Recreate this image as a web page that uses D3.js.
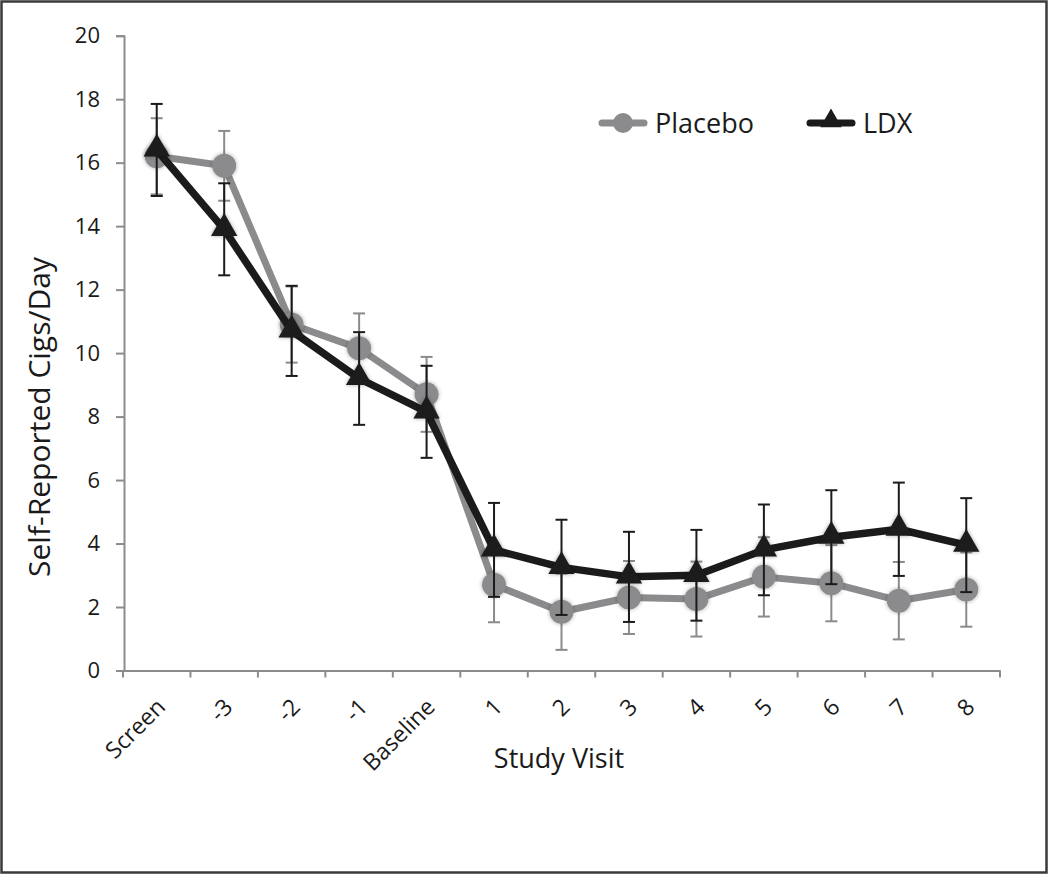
<!DOCTYPE html>
<html>
<head>
<meta charset="utf-8">
<script src="https://cdn.jsdelivr.net/npm/d3@7"></script>
<style>
  body { margin: 0; background: #fff; }
  text { font-family: "Open Sans", "Noto Sans", sans-serif; fill: #1a1a1a; }
</style>
</head>
<body>
<script>
'use strict';
// visits along the x axis
let visits = ["Screen", "-3", "-2", "-1", "Baseline", "1", "2", "3", "4", "5", "6", "7", "8"];
// mean self-reported cigarettes per day
let placebo = [16.2, 15.9, 10.9, 10.15, 8.7, 2.7, 1.85, 2.3, 2.25, 2.95, 2.75, 2.2, 2.55];
let placeboErr = [1.2, 1.1, 1.2, 1.1, 1.18, 1.18, 1.2, 1.15, 1.18, 1.25, 1.2, 1.22, 1.17];
let ldx = [16.4, 13.9, 10.7, 9.2, 8.15, 3.8, 3.25, 2.95, 3.0, 3.8, 4.2, 4.45, 3.95];
let ldxErr = [1.45, 1.45, 1.42, 1.46, 1.45, 1.48, 1.5, 1.42, 1.43, 1.43, 1.48, 1.47, 1.48];
let yTicks = [0, 2, 4, 6, 8, 10, 12, 14, 16, 18, 20];

let grey = "#8b8b8d", black = "#1b1b1b", axisGrey = "#8c8c8c";

let svg = d3.select("body").append("svg")
	.attr("width", 1050)
	.attr("height", 875);

svg.append("rect")
	.attr("x", 1.5).attr("y", 1.5)
	.attr("width", 1045).attr("height", 871)
	.attr("fill", "#fff")
	.attr("stroke", "#3a3a3a")
	.attr("stroke-width", 2.5);

// soft shadow like the excel markers
let defs = svg.append("defs");
let f = defs.append("filter").attr("id", "soft")
	.attr("x", "-50%").attr("y", "-50%").attr("width", "200%").attr("height", "200%");
f.append("feGaussianBlur").attr("in", "SourceAlpha").attr("stdDeviation", 2).attr("result", "b");
f.append("feComponentTransfer").attr("in", "b").attr("result", "s")
	.append("feFuncA").attr("type", "linear").attr("slope", 0.35);
let m = f.append("feMerge");
m.append("feMergeNode").attr("in", "s");
m.append("feMergeNode").attr("in", "SourceGraphic");

let x = d3.scaleBand().domain(visits).range([123, 1000]);
let y = d3.scaleLinear().domain([0, 20]).range([670.5, 35.7]);
let cx = function(d, i){ return x(visits[i]) + x.bandwidth() / 2; };

// y axis
let yAxis = svg.append("g")
	.attr("transform", "translate(124,0)")
	.call(d3.axisLeft(y).tickValues(yTicks).tickSize(8).tickPadding(16));
yAxis.select(".domain").attr("stroke", axisGrey).attr("stroke-width", 2);
yAxis.selectAll(".tick line").attr("stroke", axisGrey).attr("stroke-width", 2);
yAxis.selectAll(".tick text")
	.style("font-size", "22px")
	.style("font-family", "'Open Sans', sans-serif")
	.attr("fill", "#1a1a1a");

// x axis: labels under the bands, ticks on band edges
let xAxis = svg.append("g")
	.attr("transform", "translate(0," + y(0) + ")")
	.call(d3.axisBottom(x).tickSize(0).tickSizeOuter(0));
xAxis.select(".domain").attr("stroke", axisGrey).attr("stroke-width", 2);
xAxis.selectAll(".tick text")
	.style("font-size", "23px")
	.style("font-family", "'Open Sans', sans-serif")
	.attr("fill", "#1a1a1a")
	.attr("text-anchor", "end")
	.attr("transform", "translate(-2,26) rotate(-45)")
	.attr("dy", "0.6em");

let edges = visits.map(function(d){ return x(d); }).concat([x.range()[1]]);
svg.selectAll("line.xtick")
	.data(edges)
	.enter().append("line")
		.attr("class", "xtick")
		.attr("x1", function(d){ return d; })
		.attr("x2", function(d){ return d; })
		.attr("y1", y(0))
		.attr("y2", y(0) + 7)
		.attr("stroke", axisGrey)
		.attr("stroke-width", 2);

// axis titles
svg.append("text")
	.attr("x", 559).attr("y", 768)
	.attr("text-anchor", "middle")
	.style("font-size", "27px")
	.text("Study Visit");

svg.append("text")
	.attr("transform", "translate(50,417) rotate(-90)")
	.attr("text-anchor", "middle")
	.style("font-size", "30px")
	.text("Self-Reported Cigs/Day");

function errorBars(vals, errs, color, width, cls) {
	let g = svg.append("g").attr("class", cls);
	let cap = 6;
	g.selectAll("line.v").data(vals).enter().append("line")
		.attr("class", "v")
		.attr("x1", cx).attr("x2", cx)
		.attr("y1", function(d, i){ return y(d + errs[i]); })
		.attr("y2", function(d, i){ return y(d - errs[i]); })
		.attr("stroke", color).attr("stroke-width", width);
	g.selectAll("line.t").data(vals).enter().append("line")
		.attr("class", "t")
		.attr("x1", function(d, i){ return cx(d, i) - cap; })
		.attr("x2", function(d, i){ return cx(d, i) + cap; })
		.attr("y1", function(d, i){ return y(d + errs[i]); })
		.attr("y2", function(d, i){ return y(d + errs[i]); })
		.attr("stroke", color).attr("stroke-width", width);
	g.selectAll("line.b").data(vals).enter().append("line")
		.attr("class", "b")
		.attr("x1", function(d, i){ return cx(d, i) - cap; })
		.attr("x2", function(d, i){ return cx(d, i) + cap; })
		.attr("y1", function(d, i){ return y(d - errs[i]); })
		.attr("y2", function(d, i){ return y(d - errs[i]); })
		.attr("stroke", color).attr("stroke-width", width);
}

let line = d3.line()
	.x(function(d, i){ return cx(d, i); })
	.y(function(d){ return y(d); });

let triangle = d3.symbol().type(d3.symbolTriangle).size(300);

// placebo series
errorBars(placebo, placeboErr, grey, 2, "perr");
svg.append("path")
	.datum(placebo)
	.attr("d", line)
	.attr("fill", "none")
	.attr("stroke", grey)
	.attr("stroke-width", 7)
	.attr("stroke-linejoin", "round");
svg.selectAll("circle.placebo")
	.data(placebo)
	.enter().append("circle")
		.attr("class", "placebo")
		.attr("cx", cx)
		.attr("cy", function(d){ return y(d); })
		.attr("r", 12)
		.attr("fill", grey)
		.attr("filter", "url(#soft)");

// LDX series
errorBars(ldx, ldxErr, black, 2, "lerr");
svg.append("path")
	.datum(ldx)
	.attr("d", line)
	.attr("fill", "none")
	.attr("stroke", black)
	.attr("stroke-width", 7.5)
	.attr("stroke-linejoin", "round");
svg.selectAll("path.ldx")
	.data(ldx)
	.enter().append("path")
		.attr("class", "ldx")
		.attr("d", triangle)
		.attr("transform", function(d, i){ return "translate(" + cx(d, i) + "," + (y(d) - 1) + ")"; })
		.attr("fill", black)
		.attr("filter", "url(#soft)");

// legend
let legendItems = ["Placebo", "LDX"];
let legendX = [623, 831];
let legend = svg.selectAll("g.legend")
	.data(legendItems)
	.enter().append("g")
		.attr("class", "legend")
		.attr("transform", function(d, i){ return "translate(" + legendX[i] + ",123)"; });
legend.append("line")
	.attr("x1", -21).attr("x2", 21)
	.attr("stroke", function(d, i){ return i ? black : grey; })
	.attr("stroke-width", 7)
	.attr("stroke-linecap", "round");
legend.filter(function(d, i){ return i === 0; }).append("circle")
	.attr("r", 10).attr("fill", grey);
legend.filter(function(d, i){ return i === 1; }).append("path")
	.attr("d", d3.symbol().type(d3.symbolTriangle).size(200))
	.attr("transform", "translate(0,-2)")
	.attr("fill", black);
legend.append("text")
	.attr("x", 32).attr("y", 10)
	.style("font-size", "27px")
	.text(function(d){ return d; });
</script>
</body>
</html>
